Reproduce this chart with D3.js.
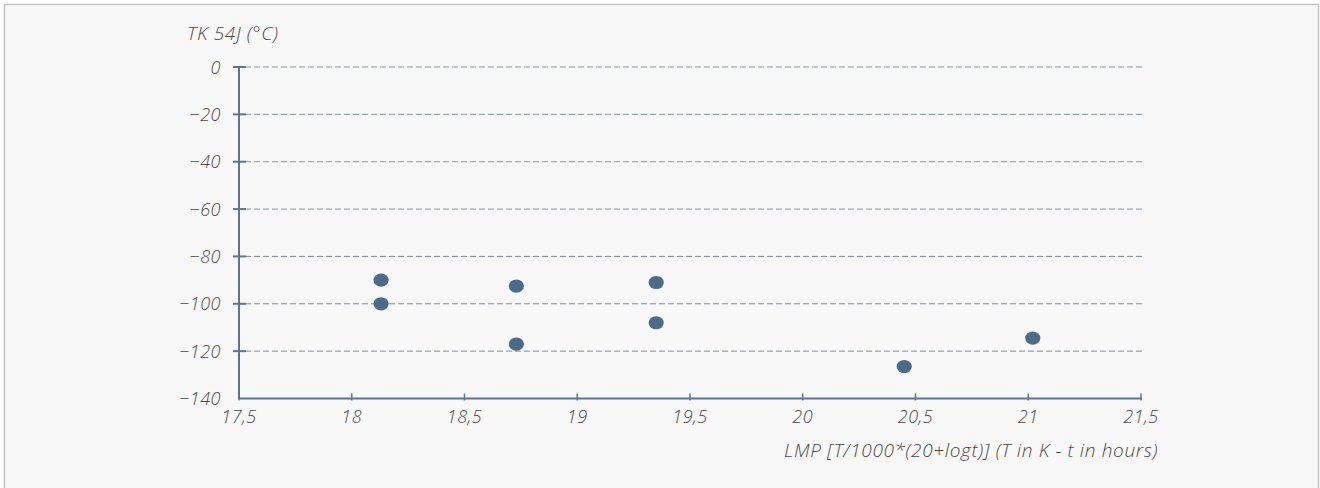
<!DOCTYPE html>
<html>
<head>
<meta charset="utf-8">
<script src="https://cdn.jsdelivr.net/npm/d3@7/dist/d3.min.js"></script>
<style>
  html, body { margin: 0; padding: 0; background: #ffffff; }
  svg { display: block; }
  text { font-family: "Open Sans", "Noto Sans", sans-serif; font-style: italic; font-weight: 300; fill: #4a4a4a; letter-spacing: 0.5px; }
  text.title { letter-spacing: 0.65px; }
</style>
</head>
<body>
<svg id="chart" width="1320" height="488"></svg>
<script>
// LMP values (x) and TK 54J transition temperatures (y, °C)
const lmpValues  = [18.13, 18.13, 18.73, 18.73, 19.35, 19.35, 20.45, 21.02];
const tk54Values = [-90, -100, -92.5, -117, -91, -108, -126.5, -114.5];

const xTicks = [17.5, 18, 18.5, 19, 19.5, 20, 20.5, 21, 21.5];
const yTicks = [0, -20, -40, -60, -80, -100, -120, -140];

const yTitle = "TK 54J (°C)";
const xTitle = "LMP [T/1000*(20+logt)] (T in K - t in hours)";

const svg = d3.select("#chart");
const W = 1320, H = 488;

// panel background and frame
svg.append("rect")
  .attr("x", 4.5).attr("y", 4.5)
  .attr("width", W - 6).attr("height", H + 10)
  .attr("fill", "#f8f8f8")
  .attr("stroke", "#c4c4c4").attr("stroke-width", 1.5);

const plotLeft = 239, plotRight = 1141, plotTop = 67, plotBottom = 398.5;

const x = d3.scaleLinear().domain([17.5, 21.5]).range([plotLeft, plotRight]);
const y = d3.scaleLinear().domain([0, -140]).range([plotTop, plotBottom]);

const fmt = d => String(d).replace(".", ",").replace("-", "\u2212");

// horizontal dashed gridlines
svg.append("g").selectAll("line")
  .data(yTicks.filter(d => d !== -140))
  .join("line")
  .attr("x1", plotLeft + 6).attr("x2", plotRight + 2)
  .attr("y1", d => y(d)).attr("y2", d => y(d))
  .attr("stroke", d => d > -70 ? "#7f97ae" : "#7d8c9a")
  .attr("stroke-width", 1)
  .attr("stroke-dasharray", "6,3");

// y axis
const yAxis = svg.append("g");
yAxis.append("line")
  .attr("x1", plotLeft).attr("x2", plotLeft)
  .attr("y1", y(0)).attr("y2", y(-140))
  .attr("stroke", "#5b7690").attr("stroke-width", 2);
yAxis.selectAll("line.tick")
  .data(yTicks.filter(d => d !== -140))
  .join("line")
  .attr("class", "tick")
  .attr("x1", plotLeft - 6).attr("x2", plotLeft + 7)
  .attr("y1", d => y(d)).attr("y2", d => y(d))
  .attr("stroke", "#5b7690").attr("stroke-width", 2);
yAxis.selectAll("text")
  .data(yTicks)
  .join("text")
  .attr("x", 221)
  .attr("y", d => y(d) + 6.5)
  .attr("text-anchor", "end")
  .attr("font-size", 18)
  .text(fmt);

// x axis
const xAxis = svg.append("g");
xAxis.append("line")
  .attr("x1", plotLeft - 1).attr("x2", plotRight + 1)
  .attr("y1", plotBottom).attr("y2", plotBottom)
  .attr("stroke", "#5b7690").attr("stroke-width", 2);
xAxis.selectAll("line.tick")
  .data(xTicks)
  .join("line")
  .attr("class", "tick")
  .attr("x1", d => x(d)).attr("x2", d => x(d))
  .attr("y1", plotBottom - 5).attr("y2", plotBottom + 2)
  .attr("stroke", "#5b7690").attr("stroke-width", 1.5);
xAxis.selectAll("text")
  .data(xTicks)
  .join("text")
  .attr("x", d => x(d))
  .attr("y", 423)
  .attr("text-anchor", "middle")
  .attr("font-size", 18)
  .text(fmt);

// axis titles
svg.append("text")
  .attr("class", "title")
  .attr("x", 187).attr("y", 40)
  .attr("font-size", 19)
  .text(yTitle);
svg.append("text")
  .attr("class", "title")
  .attr("x", 1158).attr("y", 457)
  .attr("text-anchor", "end")
  .attr("font-size", 19)
  .text(xTitle);

// data points
svg.append("g").selectAll("ellipse")
  .data(lmpValues.map((v, i) => ({ lmp: v, tk: tk54Values[i] })))
  .join("ellipse")
  .attr("cx", d => x(d.lmp))
  .attr("cy", d => y(d.tk))
  .attr("rx", 7.6).attr("ry", 6.6)
  .attr("fill", "#4b6b89");
</script>
</body>
</html>
